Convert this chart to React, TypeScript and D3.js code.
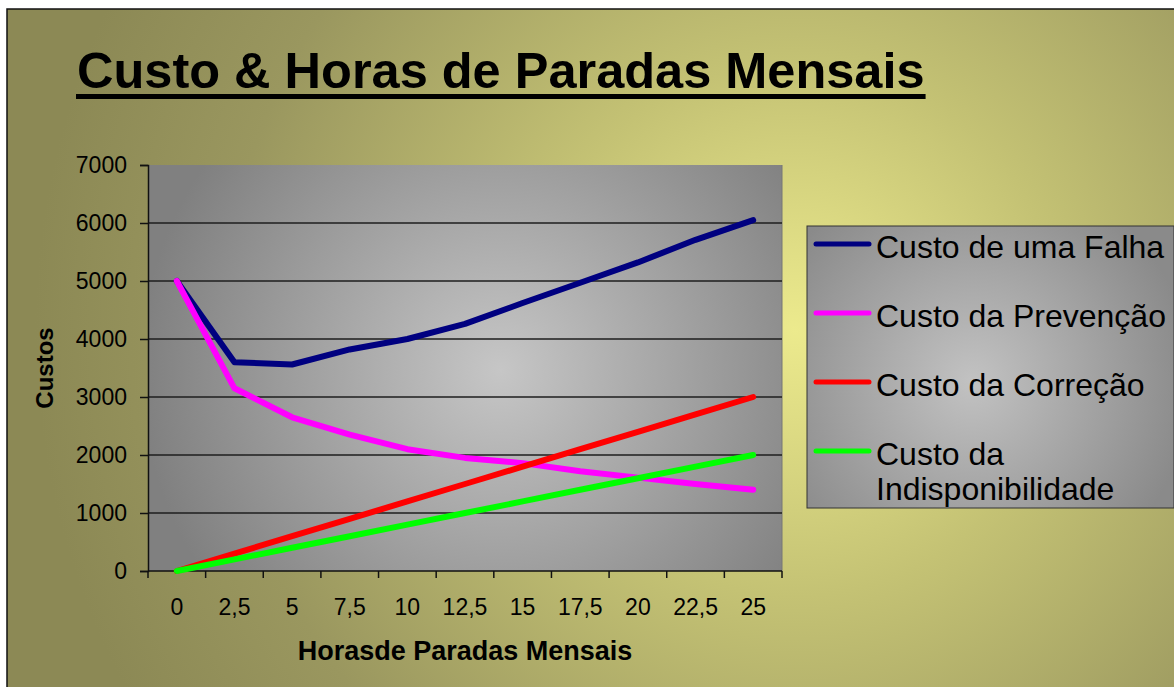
import React, { useEffect, useRef } from 'react';
import * as d3 from 'd3';

const WIDTH = 1174;
const HEIGHT = 687;
const FONT = '"Liberation Sans", Arial, Helvetica, sans-serif';

// hours of monthly stops (x categories)
const categories = ['0', '2,5', '5', '7,5', '10', '12,5', '15', '17,5', '20', '22,5', '25'];
const yTicks = [0, 1000, 2000, 3000, 4000, 5000, 6000, 7000];

const custoFalha = [5000, 3600, 3560, 3820, 4000, 4260, 4620, 4970, 5320, 5710, 6050];
const custoPrevencao = [5000, 3150, 2650, 2350, 2100, 1950, 1860, 1720, 1610, 1500, 1400];
const custoCorrecao = [0, 300, 600, 900, 1200, 1500, 1800, 2100, 2400, 2700, 3000];
const custoIndisp = [0, 200, 400, 600, 800, 1000, 1200, 1400, 1600, 1800, 2000];

const seriesNames = ['Custo de uma Falha', 'Custo da Prevenção', 'Custo da Correção', 'Custo da|Indisponibilidade'];
const seriesColors = ['#000080', '#ff00ff', '#ff0000', '#00ff00'];

const PLOT = { left: 148, top: 165, right: 782, bottom: 571 };
const LEGEND = { x: 807, y: 226, w: 367, h: 282 };

export default function App() {
  const ref = useRef<SVGSVGElement>(null);

  useEffect(() => {
    const svg = d3.select(ref.current);
    svg.selectAll('*').remove();

    const defs = svg.append('defs');
    const bg = defs.append('radialGradient').attr('id', 'bgGrad')
      .attr('gradientUnits', 'userSpaceOnUse')
      .attr('cx', 795).attr('cy', 330).attr('r', 760);
    bg.append('stop').attr('offset', '0%').attr('stop-color', '#ecea8d');
    bg.append('stop').attr('offset', '35%').attr('stop-color', '#c4c274');
    bg.append('stop').attr('offset', '75%').attr('stop-color', '#9a975f');
    bg.append('stop').attr('offset', '100%').attr('stop-color', '#8c8955');

    const pg = defs.append('radialGradient').attr('id', 'plotGrad')
      .attr('gradientUnits', 'userSpaceOnUse')
      .attr('cx', 500).attr('cy', 370).attr('r', 360);
    pg.append('stop').attr('offset', '0%').attr('stop-color', '#c6c6c6');
    pg.append('stop').attr('offset', '100%').attr('stop-color', '#808080');

    const lg = defs.append('radialGradient').attr('id', 'legGrad')
      .attr('gradientUnits', 'userSpaceOnUse')
      .attr('cx', LEGEND.x + LEGEND.w * 0.45).attr('cy', LEGEND.y + LEGEND.h * 0.55).attr('r', 220);
    lg.append('stop').attr('offset', '0%').attr('stop-color', '#c2c2c2');
    lg.append('stop').attr('offset', '100%').attr('stop-color', '#8a8a8a');

    // background frame
    svg.append('rect').attr('x', 7).attr('y', 9).attr('width', WIDTH).attr('height', HEIGHT)
      .attr('fill', 'url(#bgGrad)').attr('stroke', '#111').attr('stroke-width', 1.5);

    // title with underline
    const title = svg.append('text').attr('x', 77).attr('y', 88)
      .attr('font-family', FONT).attr('font-weight', 'bold').attr('font-size', 50.5)
      .attr('fill', '#000').text('Custo & Horas de Paradas Mensais');
    const tl = (title.node() as SVGTextElement).getComputedTextLength();
    svg.append('rect').attr('x', 76).attr('y', 94).attr('width', tl + 2).attr('height', 5).attr('fill', '#000');

    const x = d3.scaleBand().domain(categories).range([PLOT.left, PLOT.right]);
    const y = d3.scaleLinear().domain([0, 7000]).range([PLOT.bottom, PLOT.top]);

    // plot area
    svg.append('rect').attr('x', PLOT.left).attr('y', PLOT.top)
      .attr('width', PLOT.right - PLOT.left).attr('height', PLOT.bottom - PLOT.top)
      .attr('fill', 'url(#plotGrad)');
    svg.append('line').attr('x1', PLOT.right).attr('x2', PLOT.right)
      .attr('y1', PLOT.top).attr('y2', PLOT.bottom).attr('stroke', '#777').attr('stroke-width', 1);

    // gridlines
    svg.append('g').selectAll('line').data(yTicks.filter(t => t > 0 && t < 7000)).join('line')
      .attr('x1', PLOT.left).attr('x2', PLOT.right)
      .attr('y1', d => y(d)).attr('y2', d => y(d))
      .attr('stroke', '#1e1e1e').attr('stroke-width', 1.5);

    // y axis
    const yAxis = svg.append('g').attr('transform', `translate(${PLOT.left},0)`)
      .call(d3.axisLeft(y).tickValues(yTicks).tickSize(8).tickPadding(13).tickFormat(d3.format('d')));
    yAxis.select('.domain').attr('stroke', '#111').attr('stroke-width', 1.5);
    yAxis.selectAll('.tick line').attr('stroke', '#111').attr('stroke-width', 1.5);
    yAxis.selectAll('text').attr('font-family', FONT).attr('font-size', 23).attr('fill', '#000');

    // x axis: ticks between categories, labels centered
    const xg = svg.append('g');
    xg.append('line').attr('x1', PLOT.left).attr('x2', PLOT.right)
      .attr('y1', PLOT.bottom).attr('y2', PLOT.bottom).attr('stroke', '#111').attr('stroke-width', 1.5);
    const bounds = categories.map(c => x(c) as number).concat([PLOT.right]);
    xg.selectAll('line.tk').data(bounds).join('line').attr('class', 'tk')
      .attr('x1', d => d).attr('x2', d => d)
      .attr('y1', PLOT.bottom).attr('y2', PLOT.bottom + 7)
      .attr('stroke', '#111').attr('stroke-width', 1.5);
    xg.selectAll('text').data(categories).join('text')
      .attr('x', d => (x(d) as number) + x.bandwidth() / 2).attr('y', 615)
      .attr('text-anchor', 'middle').attr('font-family', FONT).attr('font-size', 23)
      .attr('fill', '#000').text(d => d);

    // axis titles
    svg.append('text').attr('x', (PLOT.left + PLOT.right) / 2).attr('y', 660)
      .attr('text-anchor', 'middle').attr('font-family', FONT).attr('font-weight', 'bold')
      .attr('font-size', 27).text('Horasde Paradas Mensais');
    svg.append('text').attr('transform', `translate(53,${(PLOT.top + PLOT.bottom) / 2}) rotate(-90)`)
      .attr('text-anchor', 'middle').attr('font-family', FONT).attr('font-weight', 'bold')
      .attr('font-size', 24).text('Custos');

    // lines
    const allSeries = [custoFalha, custoPrevencao, custoCorrecao, custoIndisp];
    const line = d3.line<number>()
      .x((_, i) => (x(categories[i]) as number) + x.bandwidth() / 2)
      .y(d => y(d));
    svg.append('g').selectAll('path').data(allSeries).join('path')
      .attr('d', d => line(d))
      .attr('fill', 'none')
      .attr('stroke', (_, i) => seriesColors[i])
      .attr('stroke-width', 6)
      .attr('stroke-linecap', 'round')
      .attr('stroke-linejoin', 'round');

    // legend
    const leg = svg.append('g');
    leg.append('rect').attr('x', LEGEND.x).attr('y', LEGEND.y).attr('width', LEGEND.w).attr('height', LEGEND.h)
      .attr('fill', 'url(#legGrad)').attr('stroke', '#333').attr('stroke-width', 1);
    seriesNames.forEach((name, i) => {
      const ly = 244 + i * 69;
      leg.append('line').attr('x1', 816).attr('x2', 869).attr('y1', ly).attr('y2', ly)
        .attr('stroke', seriesColors[i]).attr('stroke-width', 5).attr('stroke-linecap', 'round');
      const t = leg.append('text').attr('x', 876).attr('y', ly + 14)
        .attr('font-family', FONT).attr('font-size', 32).attr('fill', '#000');
      name.split('|').forEach((part, j) => {
        t.append('tspan').attr('x', 876).attr('dy', j === 0 ? 0 : 35).text(part);
      });
    });
  }, []);

  return (
    <svg ref={ref} width={WIDTH} height={HEIGHT}
      style={{ position: 'absolute', left: 0, top: 0, display: 'block' }} />
  );
}
